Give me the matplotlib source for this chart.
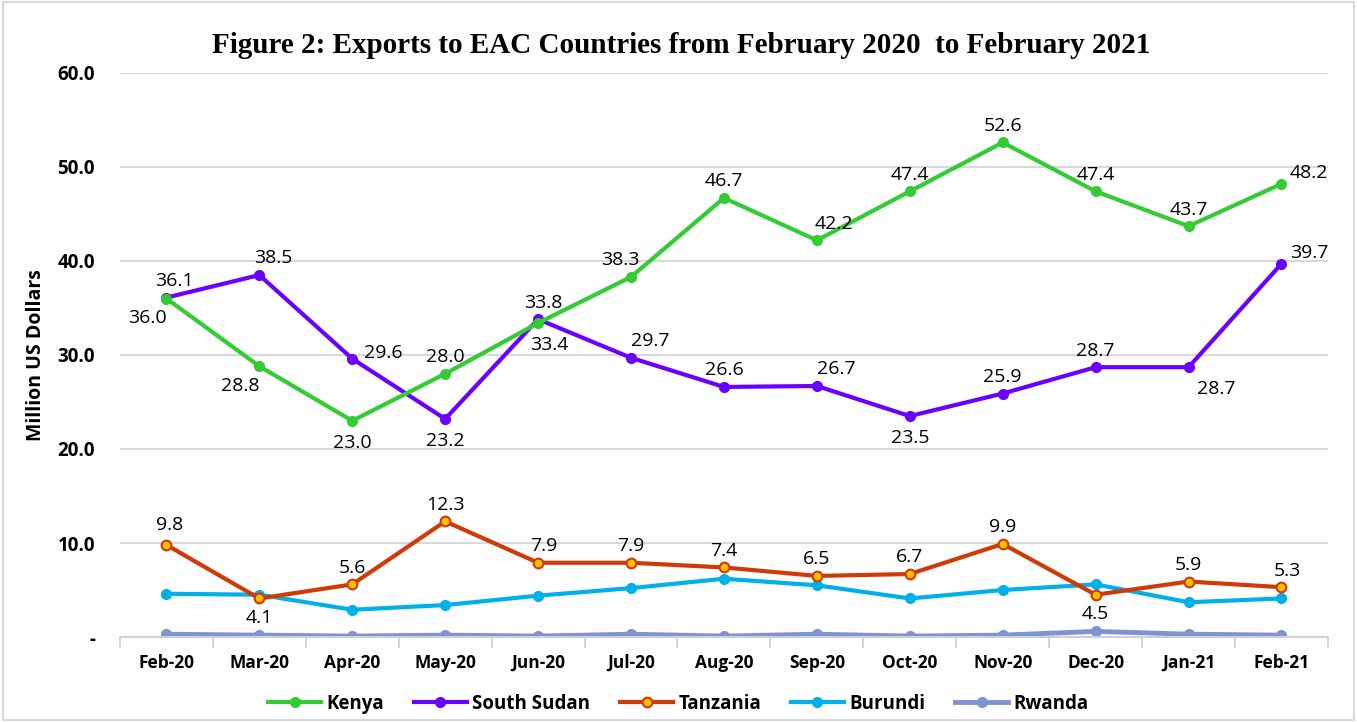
import numpy as np
import matplotlib.pyplot as plt
from matplotlib.patches import Rectangle

months = ["Feb-20", "Mar-20", "Apr-20", "May-20", "Jun-20", "Jul-20", "Aug-20",
          "Sep-20", "Oct-20", "Nov-20", "Dec-20", "Jan-21", "Feb-21"]
kenya = [36.0, 28.8, 23.0, 28.0, 33.4, 38.3, 46.7, 42.2, 47.4, 52.6, 47.4, 43.7, 48.2]
south_sudan = [36.1, 38.5, 29.6, 23.2, 33.8, 29.7, 26.6, 26.7, 23.5, 25.9, 28.7, 28.7, 39.7]
tanzania = [9.8, 4.1, 5.6, 12.3, 7.9, 7.9, 7.4, 6.5, 6.7, 9.9, 4.5, 5.9, 5.3]
burundi = [4.6, 4.5, 2.9, 3.4, 4.4, 5.2, 6.2, 5.5, 4.1, 5.0, 5.6, 3.7, 4.1]
rwanda = [0.3, 0.2, 0.1, 0.2, 0.1, 0.3, 0.1, 0.3, 0.1, 0.2, 0.6, 0.3, 0.2]

# label offsets (points) for the labelled series
kenya_off = [(-14, -14), (-14, -14), (0, -16), (0, 12), (8, -16), (-8, 12), (0, 12),
             (12, 12), (0, 12), (0, 12), (0, 12), (0, 12), (20, 8)]
ss_off = [(6, 12), (10, 12), (22, 4), (0, -16), (4, 12), (14, 12), (0, 12),
          (14, 12), (0, -16), (0, 12), (0, 12), (20, -16), (20, 8)]
tz_off = [(2, 14), (0, -14), (0, 12), (0, 12), (4, 12), (0, 12), (0, 12),
          (0, 12), (0, 12), (0, 12), (0, -14), (0, 12), (4, 12)]

fig = plt.figure(figsize=(13.57, 7.22), dpi=100)
ax = fig.add_axes([0.0884, 0.1177, 0.8902, 0.7813])
x = np.arange(len(months))

lbl_font = "Open Sans"
ax.plot(x, rwanda, color="#7F93D0", lw=3.5, marker="o", ms=7, label="Rwanda", zorder=2)
ax.plot(x, burundi, color="#00B0E8", lw=3, marker="o", ms=7, label="Burundi", zorder=3)
ax.plot(x, tanzania, color="#D03A08", lw=3, marker="o", ms=7, mfc="#FFC000",
        mec="#D03A08", mew=1.5, label="Tanzania", zorder=4)
ax.plot(x, south_sudan, color="#6A00FF", lw=3, marker="o", ms=7, label="South Sudan", zorder=5)
ax.plot(x, kenya, color="#33CC33", lw=3, marker="o", ms=7, label="Kenya", zorder=6)

for vals, offs in [(kenya, kenya_off), (south_sudan, ss_off), (tanzania, tz_off)]:
    for i, v in enumerate(vals):
        ax.annotate(f"{v:.1f}", (x[i], v), xytext=offs[i], textcoords="offset points",
                    ha="center", va="center", fontsize=14, family=lbl_font, zorder=8)

ax.set_xlim(-0.5, len(months) - 0.5)
ax.set_ylim(0, 60)
ax.set_yticks([0, 10, 20, 30, 40, 50, 60])
ax.set_yticklabels(["-", "10.0", "20.0", "30.0", "40.0", "50.0", "60.0"],
                   fontsize=13.5, fontweight="bold", family="Open Sans")
ax.set_xticks(x)
ax.set_xticklabels(months, fontsize=12.5, fontweight="bold", family="Open Sans")
ax.set_xticks(np.arange(-0.5, len(months), 1), minor=True)
ax.tick_params(axis="x", which="major", length=0, pad=12)
ax.tick_params(axis="x", which="minor", length=8, color="#D0D0D0", width=1.2)
ax.tick_params(axis="y", length=0, pad=18)
ax.grid(axis="y", color="#D9D9D9", lw=1.5)
ax.set_axisbelow(True)
for s in ["top", "right", "left"]:
    ax.spines[s].set_visible(False)
ax.spines["bottom"].set_color("#D0D0D0")
ax.spines["bottom"].set_linewidth(1.5)
ax.set_ylabel("Million US Dollars", fontsize=14, fontweight="bold", family="Open Sans", labelpad=8)

fig.suptitle("Figure 2: Exports to EAC Countries from February 2020  to February 2021",
             x=0.502, y=0.955, fontsize=21, fontweight="bold", family="Liberation Serif")

h, l = ax.get_legend_handles_labels()
order = [4, 3, 2, 1, 0]
fig.legend([h[i] for i in order], [l[i] for i in order], loc="center", ncol=5,
           bbox_to_anchor=(0.5, 0.025), frameon=False,
           prop={"family": "Open Sans", "weight": "bold", "size": 13.5},
           handlelength=2.8, columnspacing=1.6, handletextpad=0.3)

fig.patches.append(Rectangle((0.002, 0.003), 0.996, 0.994, transform=fig.transFigure,
                             fill=False, edgecolor="#D9D9D9", lw=1.5))

fig.savefig("out.png", dpi=100)
